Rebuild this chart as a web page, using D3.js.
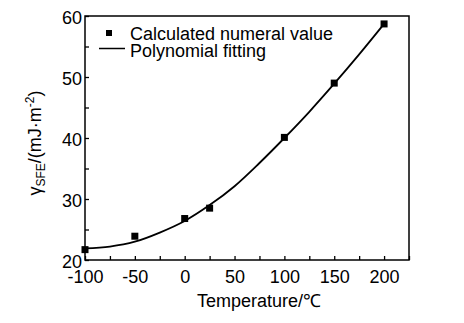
<!DOCTYPE html>
<html>
<head>
<meta charset="utf-8">
<script src="https://cdn.jsdelivr.net/npm/d3@7"></script>
<style>
  body { margin: 0; background: #fff; }
  text { font-family: "Liberation Sans", Arial, sans-serif; fill: #000; }
</style>
</head>
<body>
<svg id="chart" width="464" height="323"></svg>
<script>
// calculated values (temperature, SFE)
const temps = [-100, -50, 0, 25, 100, 150, 200];
const sfe = [21.7, 23.9, 26.8, 28.5, 40.1, 49.0, 58.7];

// polynomial fitting curve
const fitT = [-100, -75, -50, -25, 0, 25, 50, 75, 100, 125, 150, 175, 200];
const fitY = [21.9, 22.2, 23.0, 24.5, 26.4, 29.0, 32.1, 35.9, 40.0, 44.3, 48.9, 53.7, 58.7];

const xTicks = [-100, -50, 0, 50, 100, 150, 200];
const yTicks = [20, 30, 40, 50, 60];

const svg = d3.select("#chart");
const pLeft = 85, pRight = 409, pTop = 16, pBottom = 260;

const x = d3.scaleLinear().domain([-100, 225]).range([pLeft, pRight]);
const y = d3.scaleLinear().domain([20, 60]).range([pBottom, pTop]);

// frame
svg.append("rect")
    .attr("x", pLeft).attr("y", pTop)
    .attr("width", pRight - pLeft).attr("height", pBottom - pTop)
    .attr("fill", "none").attr("stroke", "#000").attr("stroke-width", 1.5);

// x axis, ticks inward
const xAxis = d3.axisBottom(x)
    .tickValues(d3.range(-100, 226, 25))
    .tickSize(-4)
    .tickFormat(d => xTicks.includes(d) ? d : "");
const gx = svg.append("g").attr("transform", `translate(0,${pBottom})`).call(xAxis);
gx.select(".domain").remove();
gx.selectAll("line").attr("stroke-width", 1.3);
gx.selectAll("text").attr("font-size", 18).attr("dy", "0.95em").attr("y", 6);

// y axis
const yAxis = d3.axisLeft(y)
    .tickValues(d3.range(20, 61, 5))
    .tickSize(-4)
    .tickFormat(d => yTicks.includes(d) ? d : "");
const gy = svg.append("g").attr("transform", `translate(${pLeft},0)`).call(yAxis);
gy.select(".domain").remove();
gy.selectAll("line").attr("stroke-width", 1.3);
gy.selectAll("text").attr("font-size", 18).attr("x", -3).attr("dy", "0.42em");

// fitted curve
const line = d3.line()
    .x((d, i) => x(fitT[i]))
    .y(d => y(d))
    .curve(d3.curveCatmullRom);
svg.append("path")
    .attr("d", line(fitY))
    .attr("fill", "none")
    .attr("stroke", "#000")
    .attr("stroke-width", 1.8);

// points
svg.selectAll(".pt")
    .data(temps)
    .enter()
    .append("rect")
    .attr("class", "pt")
    .attr("x", (d, i) => x(d) - 3.5)
    .attr("y", (d, i) => y(sfe[i]) - 3.5)
    .attr("width", 7).attr("height", 7)
    .attr("fill", "#000");

// legend
svg.append("rect").attr("x", 106).attr("y", 30).attr("width", 6).attr("height", 6).attr("fill", "#000");
svg.append("text").attr("x", 130).attr("y", 39.5).attr("font-size", 18).text("Calculated numeral value");
svg.append("line").attr("x1", 99).attr("x2", 125).attr("y1", 48.5).attr("y2", 48.5)
    .attr("stroke", "#000").attr("stroke-width", 1.5);
svg.append("text").attr("x", 130).attr("y", 56.5).attr("font-size", 18).text("Polynomial fitting");

// axis titles
svg.append("text")
    .attr("x", 259).attr("y", 307)
    .attr("text-anchor", "middle")
    .attr("font-size", 18)
    .text("Temperature/℃");

const yl = svg.append("text")
    .attr("transform", "translate(41,143) rotate(-90)")
    .attr("text-anchor", "middle")
    .attr("font-size", 18);
yl.append("tspan").text("γ");
yl.append("tspan").attr("font-size", 12).attr("dy", 4).text("SFE");
yl.append("tspan").attr("dy", -4).text("/(mJ·m");
yl.append("tspan").attr("font-size", 12).attr("dy", -7).text("-2");
yl.append("tspan").attr("dy", 7).text(")");
</script>
</body>
</html>
